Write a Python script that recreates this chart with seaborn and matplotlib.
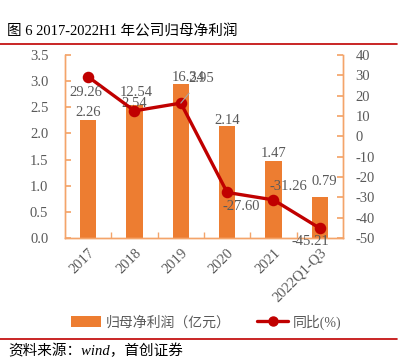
import matplotlib
matplotlib.use("Agg")
import matplotlib.pyplot as plt
import seaborn as sns
import pandas as pd
from matplotlib.patches import Patch
from matplotlib.lines import Line2D

categories = ["2017", "2018", "2019", "2020", "2021", "2022Q1-Q3"]
net_profit = [2.26, 2.54, 2.95, 2.14, 1.47, 0.79]
yoy = [29.26, 12.54, 16.34, -27.60, -31.26, -45.21]
left_ticks = [0.0, 0.5, 1.0, 1.5, 2.0, 2.5, 3.0, 3.5]
right_ticks = [40, 30, 20, 10, 0, -10, -20, -30, -40, -50]

sns.set_theme(style="white")
FONTS = ["Liberation Serif", "Noto Sans CJK SC", "DejaVu Sans"]
plt.rcParams["font.family"] = FONTS

BAR = "#ED7D31"
LINE = "#C00000"
GRAY = "#595959"
SPINE = "#F4A46A"

df = pd.DataFrame({"cat": categories, "profit": net_profit, "yoy": yoy})

fig = plt.figure(figsize=(4.06, 3.59), dpi=100)
ax = fig.add_axes([65/406, 1-238/359, (343-65)/406, (238-55)/359])
sns.barplot(data=df, x="cat", y="profit", color=BAR, width=0.35, ax=ax,
            saturation=1, edgecolor="none")
ax2 = ax.twinx()
sns.pointplot(data=df, x="cat", y="yoy", color=LINE, markers="o",
              linestyles="-", markersize=6.5, linewidth=2.4, ax=ax2)

ax.set_xlim(-0.5, 5.5)
ax2.set_xlim(-0.5, 5.5)
ax.set_ylim(0, 3.5)
ax2.set_ylim(-50, 40)
ax.set_yticks(left_ticks)
ax.set_yticklabels([f"{v:.1f}" for v in left_ticks])
ax2.set_yticks(right_ticks)
ax2.set_yticklabels([str(v) for v in right_ticks])
ax.set_xticks(range(len(categories)))
ax.set_xticklabels(categories, rotation=45, ha="right", rotation_mode="anchor")
ax.set_xlabel("")
ax.set_ylabel("")
ax2.set_ylabel("")
ax.grid(False)
ax2.grid(False)

for a in (ax, ax2):
    for s in a.spines.values():
        s.set_color(SPINE)
        s.set_linewidth(1.0)
    a.spines["top"].set_visible(False)
ax.tick_params(axis="y", direction="in", length=4, color=SPINE, labelsize=10.5,
               labelcolor=GRAY, pad=12, left=True)
ax2.tick_params(axis="y", direction="in", length=4, color=SPINE, labelsize=10.5,
                labelcolor=GRAY, pad=9, right=True)
ax.tick_params(axis="x", length=0, labelsize=10.5, labelcolor=GRAY, pad=6)
ax.set_xticks([i + 0.5 for i in range(len(categories) - 1)], minor=True)
ax.tick_params(axis="x", which="minor", direction="in", length=4, color=SPINE,
               bottom=True)
ax2.tick_params(axis="x", length=0, bottom=False, labelbottom=False)

# bar labels (offsets in points)
bar_off = [(0, 5), (0, 1.5), None, (0, 4), (0, 5.5), (3, 11)]
for i, v in enumerate(net_profit):
    if bar_off[i] is None:
        continue
    ax.annotate(f"{v:.2f}", (i, v), xytext=bar_off[i], textcoords="offset points",
                ha="center", va="center", fontsize=10.5, color=GRAY)
# 2019 bar label with leader line
ax2.annotate(f"{net_profit[2]:.2f}", (2, yoy[2]), xytext=(15, 18),
             textcoords="offset points", ha="center", va="center",
             fontsize=10.5, color=GRAY,
             arrowprops=dict(arrowstyle="-", color="#A6A6A6", lw=0.8,
                             shrinkA=5, shrinkB=0))

line_off = [(-2, -11.5), (1.5, 13.5), (5, 18.5), (10, -10), (11, 10), (-6.5, -9.5)]
for i, v in enumerate(yoy):
    ax2.annotate(f"{v:.2f}", (i, v), xytext=line_off[i], textcoords="offset points",
                 ha="center", va="center", fontsize=10.5, color=GRAY)

# title & rules
fig.text(7/406, 1-32/359, "图 6 2017-2022H1 年公司归母净利润", fontsize=10.5,
         color="black", ha="left", va="center", family=FONTS)
fig.add_artist(Line2D([0, 397/406], [1-44/359, 1-44/359], color="#C00000", lw=1.2))
fig.add_artist(Line2D([0, 397/406], [1-339/359, 1-339/359], color="#C00000", lw=1.2))
fig.text(8/406, 1-351/359, "资料来源：wind，首创证券", fontsize=10.5, color="black",
         ha="left", va="center", style="italic", family=FONTS)

handles = [Patch(facecolor=BAR, edgecolor="none"),
           Line2D([0], [0], color=LINE, lw=2.4, marker="o", markersize=6.5)]
leg = fig.legend(handles, ["归母净利润（亿元）", "同比(%)"], loc="center",
                 bbox_to_anchor=(206/406, 1-322/359), ncol=2, frameon=False,
                 fontsize=10, handlelength=2.2, handleheight=0.8,
                 columnspacing=1.9, handletextpad=0.35)
for t in leg.get_texts():
    t.set_color(GRAY)

fig.savefig("out.png", dpi=100)
